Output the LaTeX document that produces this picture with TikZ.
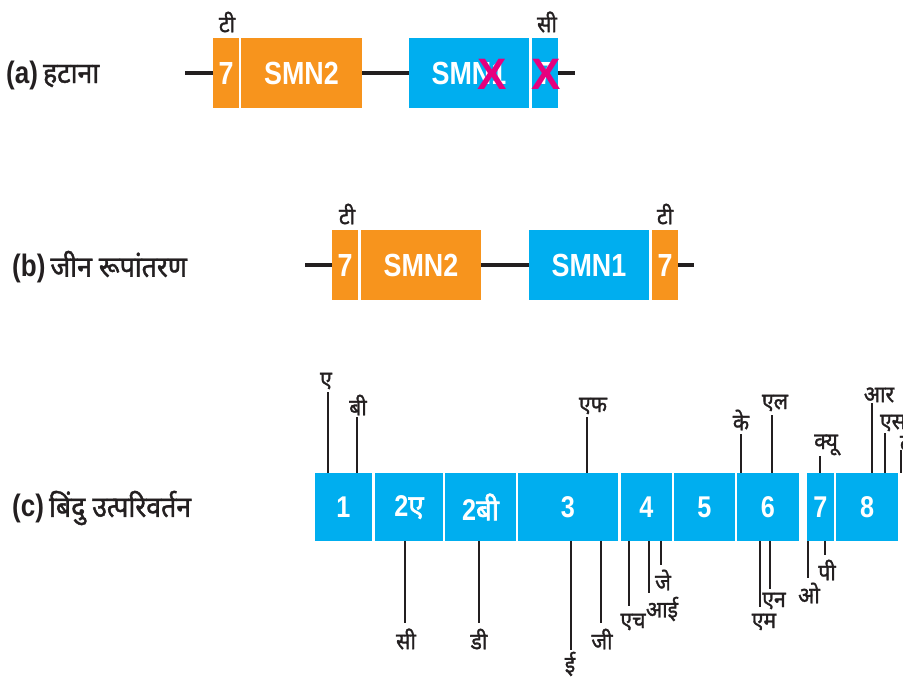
\documentclass[tikz,border=0pt]{standalone}
\usepackage{fontspec}
\setmainfont{Liberation Sans}
\newfontfamily\lat[FakeStretch=0.84]{Liberation Sans}
\newfontfamily\latx{Liberation Sans}
\newfontfamily\dev[Script=Devanagari, FakeStretch=0.92, FakeBold=1.4]{Noto Sans}
\newfontfamily\devw[Script=Devanagari, FakeStretch=0.92, FakeBold=2]{Noto Sans}
\definecolor{geneorange}{HTML}{F7941D}
\definecolor{geneblue}{HTML}{00AEEF}
\definecolor{crossmag}{HTML}{E6007E}
\definecolor{ink}{HTML}{231F20}
\tikzset{
  exo/.style={rectangle, inner sep=0pt, text=white,
    font=\lat\bfseries\fontsize{32}{32}\selectfont},
  orangebox/.style={exo, fill=geneorange, minimum height=70pt},
  bluebox/.style={exo, fill=geneblue, minimum height=70pt},
  pbox/.style={exo, fill=geneblue, minimum height=68pt,
    font=\lat\bfseries\fontsize{30}{30}\selectfont},
  backbone/.style={draw=ink, line width=4pt},
  tick/.style={draw=ink, line width=1.8pt},
  lbl/.style={inner sep=0pt, text=ink, font=\dev\fontsize{23}{23}\selectfont},
  heading/.style={inner sep=0pt, text=ink, anchor=west},
  cross/.style={inner sep=0pt, text=crossmag,
    font=\latx\bfseries\fontsize{44}{44}\selectfont}
}
\newcommand{\hd}[2]{{\lat\bfseries\fontsize{31}{31}\selectfont #1}\hspace{5pt}{\dev\fontsize{29}{29}\selectfont #2}}
\newcommand{\dn}[1]{{\devw #1}}

\begin{document}
\begin{tikzpicture}[x=1pt, y=-1pt]
\useasboundingbox (0,0) rectangle (903,679);

% ---------- (a) deletion ----------
\node[heading] (ha) at (6,75) {\hd{(a)}{हटाना}};
\coordinate (aL) at (185,73);
\coordinate (aR) at (575,73);
\node[orangebox, minimum width=26pt]  (a7) at (226,73)   {7};
\node[orangebox, minimum width=121pt] (a2) at (301.5,73) {SMN2};
\node[bluebox, minimum width=120pt]   (a1) at (469,73)   {SMN1};
\node[bluebox, minimum width=26pt]    (a8) at (545,73)   {7};
\draw[backbone] (aL) -- (a7.west);
\draw[backbone] (a2.east) -- (a1.west);
\draw[backbone] (a8.east) -- (aR);
\node[cross] (x1) at (492,74) {X};
\node[cross] (x2) at (546,74) {X};
\node[lbl] (aT) at (227,22) {टी};
\node[lbl] (aC) at (547,22) {सी};

% ---------- (b) gene conversion ----------
\node[heading] (hb) at (12,267) {\hd{(b)}{जीन रूपांतरण}};
\coordinate (bL) at (305,265);
\coordinate (bR) at (694,265);
\node[orangebox, minimum width=26pt]  (b7) at (345,265) {7};
\node[orangebox, minimum width=120pt] (b2) at (421,265) {SMN2};
\node[bluebox, minimum width=120pt]   (b1) at (589,265) {SMN1};
\node[orangebox, minimum width=26pt]  (b8) at (665,265) {7};
\draw[backbone] (bL) -- (b7.west);
\draw[backbone] (b2.east) -- (b1.west);
\draw[backbone] (b8.east) -- (bR);
\node[lbl] (bT) at (347,214) {टी};
\node[lbl] (bU) at (665,214) {टी};

% ---------- (c) point mutations ----------
\node[heading] (hc) at (12,508) {\hd{(c)}{बिंदु उत्परिवर्तन}};
\node[pbox, minimum width=57pt]  (e1)  at (343.5,507) {1};
\node[pbox, minimum width=68pt]  (e2a) at (409,507)   {2\dn{ए}};
\node[pbox, minimum width=71pt]  (e2b) at (480.5,507) {2\dn{बी}};
\node[pbox, minimum width=100pt] (e3)  at (568,507)   {3};
\node[pbox, minimum width=51pt]  (e4)  at (646.5,507) {4};
\node[pbox, minimum width=61pt]  (e5)  at (704.5,507) {5};
\node[pbox, minimum width=62pt]  (e6)  at (768,507)   {6};
\node[pbox, minimum width=27pt]  (e7)  at (820.5,507) {7};
\node[pbox, minimum width=62pt]  (e8)  at (867,507)   {8};

% mutations above the exons: name/x/top/label x/label y/text/exon
\foreach \n/\x/\yt/\lx/\ly/\t/\b in {
    A/328/392/326/381/ए/e1,
    B/357/417/358/405/बी/e1,
    F/587/417/593/406/एफ/e3,
    K/741/434/741/420/के/e6,
    L/772/415/775/403/एल/e6,
    Q/820/456/826/445/क्यू/e7,
    R/872/403/879/395/आर/e8,
    S/885/433/893/423/एस/e8,
    T/901/450/908/440/टी/e8}{
  \coordinate (k\n) at (\x,\yt);
  \node[lbl] (m\n) at (\lx,\ly) {\t};
  \draw[tick] (k\n) -- (k\n |- \b.north);
}

% mutations below the exons
\foreach \n/\x/\yb/\lx/\ly/\t/\b in {
    C/405/623/406/639/सी/e2a,
    D/479/623/479/639/डी/e2b,
    E/571/650/570/664/ई/e3,
    G/601/623/602/639/जी/e3,
    H/629/606/633/622/एच/e4,
    I/649/593/662/609/आई/e4,
    J/661/565/663/580/जे/e4,
    M/760/607/764/622/एम/e6,
    N/770/589/774/601/एन/e6,
    O/808/578/809/593/ओ/e7,
    P/825/555/827/570/पी/e7}{
  \coordinate (k\n) at (\x,\yb);
  \node[lbl] (m\n) at (\lx,\ly) {\t};
  \draw[tick] (k\n |- \b.south) -- (k\n);
}
\end{tikzpicture}
\end{document}
